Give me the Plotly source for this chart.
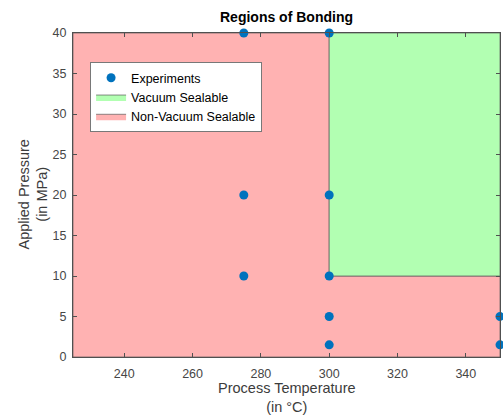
import plotly.graph_objects as go

# Experiment points
exp_temp = [275, 300, 275, 300, 275, 300, 300, 300, 350, 350]
exp_pressure = [40, 40, 20, 20, 10, 10, 5, 1.5, 5, 1.5]

# Region outlines
vac_temp = [300, 350, 350, 300, 300]
vac_pressure = [10, 10, 40, 40, 10]
nonvac_temp = [225, 350, 350, 300, 300, 225, 225]
nonvac_pressure = [0, 0, 10, 10, 40, 40, 0]

x_ticks = [240, 260, 280, 300, 320, 340]
y_ticks = [0, 5, 10, 15, 20, 25, 30, 35, 40]

font = "Liberation Sans, Arial, sans-serif"
fig = go.Figure()
fig.add_trace(go.Scatter(x=nonvac_temp, y=nonvac_pressure, fill="toself", mode="lines",
                         fillcolor="rgb(255,178,178)", line=dict(color="rgb(90,90,90)", width=0.7),
                         name="Non-Vacuum Sealable", legendrank=3, hoverinfo="skip"))
fig.add_trace(go.Scatter(x=vac_temp, y=vac_pressure, fill="toself", mode="lines",
                         fillcolor="rgb(178,255,178)", line=dict(color="rgb(90,90,90)", width=0.7),
                         name="Vacuum Sealable", legendrank=2, hoverinfo="skip"))
fig.add_trace(go.Scatter(x=exp_temp, y=exp_pressure, mode="markers",
                         marker=dict(color="#0072BD", size=9), name="Experiments",
                         legendrank=1, cliponaxis=False))

axis_common = dict(showgrid=False, zeroline=False, showline=True, linecolor="rgb(80,80,80)",
                   linewidth=1, mirror="ticks", ticks="inside", ticklen=4, tickcolor="rgb(80,80,80)",
                   automargin=False,
                   tickfont=dict(family=font, size=12.5, color="rgb(70,70,70)"))
fig.update_xaxes(range=[225, 350], tickvals=x_ticks, ticklabelstandoff=5, **axis_common)
fig.update_yaxes(range=[0, 40], tickvals=y_ticks, ticklabelstandoff=3, **axis_common)

title_font = dict(family=font, size=14.5, color="rgb(60,60,60)")
fig.add_annotation(text="Process Temperature<br>(in °C)", xref="paper", yref="paper",
                   x=0.5, y=0, xanchor="center", yanchor="middle", yshift=-40,
                   showarrow=False, font=title_font)
fig.add_annotation(text="Applied Pressure<br>(in MPa)", xref="paper", yref="paper",
                   x=0, y=0.5, xanchor="center", yanchor="middle", xshift=-40.5, textangle=-90,
                   showarrow=False, font=title_font)

fig.update_layout(
    width=503, height=418,
    margin=dict(l=73, r=3, t=33, b=61, autoexpand=False),
    paper_bgcolor="white", plot_bgcolor="white",
    title=dict(text="<b>Regions of Bonding</b>", x=0.5, xanchor="center", y=0.959, yanchor="middle",
               xref="paper", font=dict(family=font, size=14, color="black")),
    showlegend=True,
    legend=dict(x=0.04, y=0.91, xanchor="left", yanchor="top", bgcolor="white",
                bordercolor="rgb(120,120,120)", borderwidth=1, tracegroupgap=0,
                font=dict(family=font, size=12.5, color="black")),
)
fig.write_html("out.html", config={"displayModeBar": False},
               post_script="document.body.style.margin='0';document.body.style.overflow='hidden';")
